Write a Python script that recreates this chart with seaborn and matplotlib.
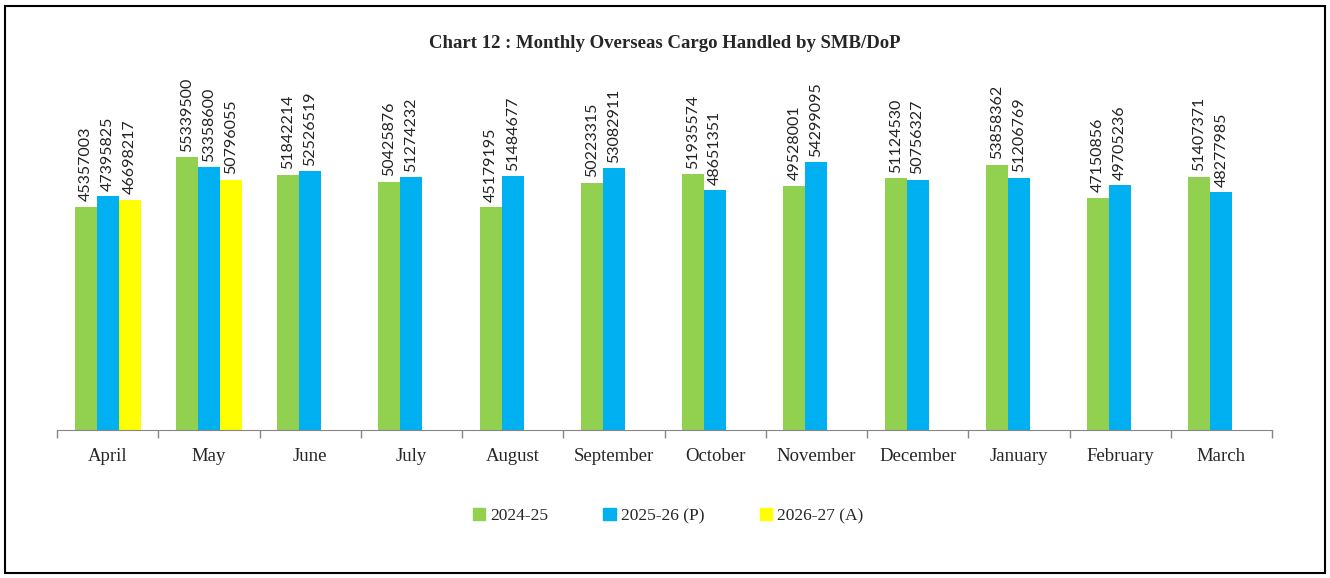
import matplotlib
matplotlib.use("Agg")
import matplotlib.pyplot as plt
import numpy as np
import pandas as pd
import seaborn as sns
from matplotlib.patches import Rectangle

months = ["April", "May", "June", "July", "August", "September",
          "October", "November", "December", "January", "February", "March"]
cargo_2024_25 = [45357003, 55339500, 51842214, 50425876, 45179195, 50223315,
                 51935574, 49528001, 51124530, 53858362, 47150856, 51407371]
cargo_2025_26 = [47395825, 53358600, 52526519, 51274232, 51484677, 53082911,
                 48651351, 54299095, 50756327, 51206769, 49705236, 48277985]
cargo_2026_27 = [46698217, 50796055] + [np.nan] * 10
series = ["2024-25", "2025-26 (P)", "2026-27 (A)"]
colors = ["#92D050", "#00B0F0", "#FFFF00"]

df = pd.DataFrame({
    "month": months * 3,
    "series": [s for s in series for _ in months],
    "cargo": cargo_2024_25 + cargo_2025_26 + cargo_2026_27,
})

sns.set_style("white")
W, H = 1330, 578
fig = plt.figure(figsize=(W / 100, H / 100), dpi=100)
ax = fig.add_axes([57 / W, 148 / H, (1272 - 57) / W, 295.6 / H])

sns.barplot(data=df, x="month", y="cargo", hue="series", hue_order=series,
            order=months, palette=colors, width=0.65, gap=0, errorbar=None,
            saturation=1, linewidth=0, ax=ax, legend=False)

for cont in ax.containers:
    ax.bar_label(cont, fmt="{:.0f}", rotation=90, padding=4,
                 fontsize=11.5, family=["Lato", "DejaVu Sans"], color="#222222")

ax.set_ylim(0, 60e6)
ax.set_xlim(-0.5, 11.5)
ax.set_yticks([])
ax.set_xlabel("")
ax.set_ylabel("")
for s in ["left", "top", "right"]:
    ax.spines[s].set_visible(False)
ax.spines["bottom"].set_color("#868686")
ax.set_xticks(np.arange(-0.5, 12, 1), minor=True)
ax.tick_params(axis="x", which="minor", bottom=True, length=6, width=1,
               color="#868686", direction="out")
ax.tick_params(axis="x", which="major", bottom=False, length=0, pad=13)
for lbl in ax.get_xticklabels():
    lbl.set_family(["Liberation Serif", "DejaVu Serif"])
    lbl.set_fontsize(13.5)

fig.text(0.5, 1 - 44 / H, "Chart 12 : Monthly Overseas Cargo Handled by SMB/DoP",
         ha="center", va="center", fontsize=13.5, fontweight="bold",
         family=["Liberation Serif", "DejaVu Serif"])

handles = [Rectangle((0, 0), 1, 1, color=c) for c in colors]
fig.legend(handles, series, loc="center", bbox_to_anchor=(668 / W, 1 - 516 / H),
           ncol=3, frameon=False, handlelength=0.7, handleheight=0.7,
           handletextpad=0.3, columnspacing=3.2,
           prop={"family": ["Liberation Serif", "DejaVu Serif"], "size": 12.5})

fig.patches.append(Rectangle((5 / W, 5 / H), 1320 / W, 567 / H, fill=False,
                             edgecolor="black", linewidth=1.5,
                             transform=fig.transFigure, figure=fig))

fig.savefig("out.png", dpi=100)
